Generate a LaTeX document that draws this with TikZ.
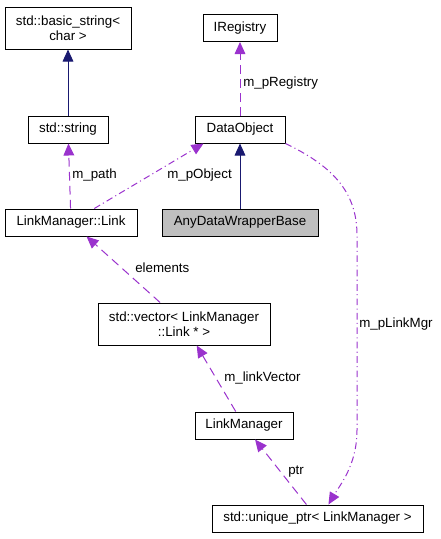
\documentclass[tikz,border=0pt]{standalone}
\usepackage{fontspec}
\setmainfont{Liberation Sans}
\usetikzlibrary{arrows.meta,positioning}
\definecolor{inhcol}{HTML}{191970}
\definecolor{usecol}{HTML}{9A32CD}

\begin{document}
\begin{tikzpicture}[x=0.75pt,y=-0.75pt,>={Triangle[length=9pt,width=8pt]},
  class node/.style={rectangle,draw,fill=white,line width=0.75pt,inner sep=0pt,
    minimum height=20.25pt,font=\fontsize{10}{11.25}\selectfont,align=center},
  inherit/.style={->,color=inhcol,line width=0.75pt},
  uses/.style={->,color=usecol,line width=0.75pt,dash pattern=on 6.5pt off 4pt},
  uses dot/.style={uses,dash pattern=on 5pt off 2.5pt on 0.8pt off 2.5pt},
  label node/.style={anchor=west,inner sep=0pt,font=\fontsize{10}{11.25}\selectfont}]
    \useasboundingbox (0,0) rectangle (440,539);
    \node[class node,minimum width=94.5pt,minimum height=31.5pt](bstr) at (68,28) {std::basic\_string<\\char >};
    \node[class node,minimum width=55.5pt](ireg) at (240,28) {IRegistry};
    \node[class node,minimum width=60pt](str) at (68,129.5) {std::string};
    \node[class node,minimum width=67.5pt](dobj) at (240,129.5) {DataObject};
    \node[class node,minimum width=99pt](link) at (71,222.5) {LinkManager::Link};
    \node[class node,minimum width=117pt,fill=black!25](adwb) at (240,222.5) {AnyDataWrapperBase};
    \node[class node,minimum width=129pt,minimum height=31.5pt](vec) at (184,324) {std::vector< LinkManager\\::Link * >};
    \node[class node,minimum width=73.5pt](lmgr) at (244,425.5) {LinkManager};
    \node[class node,minimum width=158.25pt](uptr) at (317.5,518.5) {std::unique\_ptr< LinkManager >};

    \node[label node](lreg) at (243,83) {m\_pRegistry};
    \node[label node](lpath) at (72,175) {m\_path};
    \node[label node](lobj) at (167,175) {m\_pObject};
    \node[label node](lelem) at (135,268) {elements};
    \node[label node](lvec) at (224,378) {m\_linkVector};
    \node[label node](lptr) at (288,472) {ptr};
    \node[label node](lmgrlab) at (359,324) {m\_pLinkMgr};

    \path (str) edge[inherit] (bstr)
          (adwb) edge[inherit] (dobj)
    ;
    \path (dobj) edge[uses] (ireg)
          (link) edge[uses] (str)
          (link.31) edge[uses dot] (dobj.201)
          (vec) edge[uses] (link)
          (lmgr) edge[uses] (vec)
          (uptr) edge[uses] (lmgr)
    ;
    \draw[uses dot] (dobj.south east) .. controls (330,165) and (357,190) .. (357,235)
          -- (357,430) .. controls (357,465) and (340,485) .. (uptr.52);
\end{tikzpicture}
\end{document}
